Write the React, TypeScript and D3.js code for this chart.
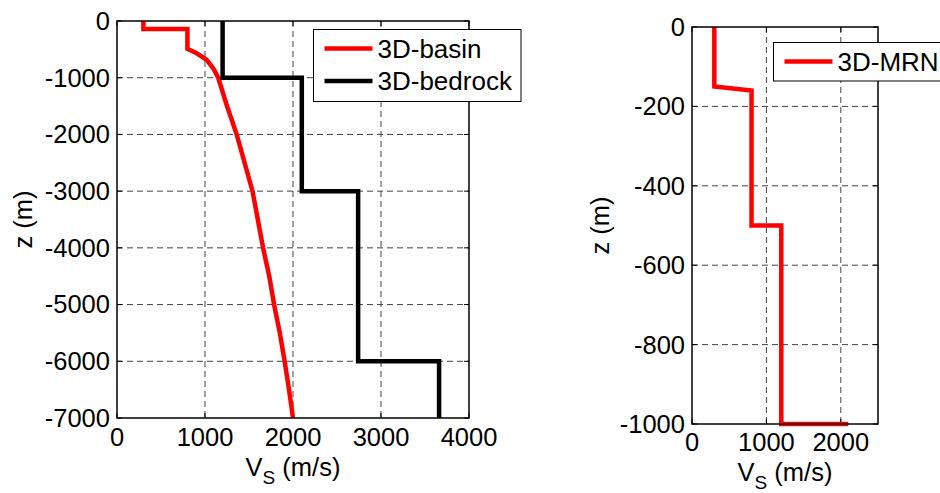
import React from "react";
import * as d3 from "d3";

// ---- data ----
const basinVs = [300, 300, 800, 800, 905, 1020, 1100, 1150, 1250, 1360, 1450, 1540, 1600, 1660, 1730, 1785, 1850, 1905, 1955, 2000];
const basinZ = [0, -140, -140, -490, -570, -685, -850, -1000, -1500, -2000, -2500, -3000, -3500, -4000, -4500, -5000, -5500, -6000, -6500, -7000];

const bedrockVs = [1200, 1200, 2100, 2100, 2740, 2740, 3660, 3660];
const bedrockZ = [0, -1000, -1000, -3000, -3000, -6000, -6000, -7000];

const mrnVs = [300, 300, 800, 800, 1200, 1200, 2100];
const mrnZ = [0, -150, -160, -500, -500, -1000, -1000];

const leftXTicks = [0, 1000, 2000, 3000, 4000];
const leftYTicks = [0, -1000, -2000, -3000, -4000, -5000, -6000, -7000];
const rightXTicks = [0, 1000, 2000];
const rightYTicks = [0, -200, -400, -600, -800, -1000];

const FONT = "'Liberation Sans', Arial, sans-serif";
const FS = 25.5;
const LFS = 26;

type Series = { vs: number[]; z: number[]; color: string };

function Panel(props: {
  x0: number; x1: number; y0: number; y1: number;
  xDomain: [number, number]; yDomain: [number, number];
  xTicks: number[]; yTicks: number[];
  series: Series[];
  yLabelX: number; xLabelY: number; xTickY: number;
}) {
  const { x0, x1, y0, y1, xDomain, yDomain, xTicks, yTicks, series, yLabelX, xLabelY, xTickY } = props;
  const xs = d3.scaleLinear().domain(xDomain).range([x0, x1]);
  const ys = d3.scaleLinear().domain(yDomain).range([y1, y0]);
  const tl = 5;
  const line = (s: Series) =>
    d3.line<number>().x((_, i) => xs(s.vs[i])).y((_, i) => ys(s.z[i]))(s.vs) || "";
  const cx = (x0 + x1) / 2;
  const cy = (y0 + y1) / 2;
  return (
    <g>
      {xTicks.filter(t => xs(t) > x0 + 1 && xs(t) < x1 - 1).map(t => (
        <line key={"gx" + t} x1={xs(t)} x2={xs(t)} y1={y0} y2={y1} stroke="#444" strokeWidth={1} strokeDasharray="6,4" />
      ))}
      {yTicks.filter(t => ys(t) > y0 + 1 && ys(t) < y1 - 1).map(t => (
        <line key={"gy" + t} y1={ys(t)} y2={ys(t)} x1={x0} x2={x1} stroke="#444" strokeWidth={1} strokeDasharray="6,4" />
      ))}
      {xTicks.map(t => (
        <g key={"tx" + t}>
          <line x1={xs(t)} x2={xs(t)} y1={y1} y2={y1 - tl} stroke="#000" strokeWidth={1} />
          <line x1={xs(t)} x2={xs(t)} y1={y0} y2={y0 + tl} stroke="#000" strokeWidth={1} />
          <text x={xs(t)} y={xTickY} textAnchor="middle" fontFamily={FONT} fontSize={FS}>{t}</text>
        </g>
      ))}
      {yTicks.map(t => (
        <g key={"ty" + t}>
          <line x1={x0} x2={x0 + tl} y1={ys(t)} y2={ys(t)} stroke="#000" strokeWidth={1} />
          <line x1={x1} x2={x1 - tl} y1={ys(t)} y2={ys(t)} stroke="#000" strokeWidth={1} />
          <text x={x0 - 7} y={ys(t)} dy="0.35em" textAnchor="end" fontFamily={FONT} fontSize={FS}>{t}</text>
        </g>
      ))}
      {series.map((s, i) => (
        <path key={"s" + i} d={line(s)} fill="none" stroke={s.color} strokeWidth={4.5} strokeLinejoin="miter" strokeLinecap="butt" />
      ))}
      <rect x={x0} y={y0} width={x1 - x0} height={y1 - y0} fill="none" stroke="#000" strokeWidth={1.5} />
      <text x={cx} y={xLabelY} textAnchor="middle" fontFamily={FONT} fontSize={FS}>
        V<tspan fontSize={19} dy={8}>S</tspan><tspan dy={-8}> (m/s)</tspan>
      </text>
      <text transform={`translate(${yLabelX},${cy}) rotate(-90)`} textAnchor="middle" fontFamily={FONT} fontSize={FS}>z (m)</text>
    </g>
  );
}

function Legend(props: { x: number; y: number; w: number; h: number; items: { label: string; color: string }[]; rowY: number[] }) {
  const { x, y, w, h, items, rowY } = props;
  return (
    <g>
      <rect x={x} y={y} width={w} height={h} fill="#fff" stroke="#000" strokeWidth={1} />
      {items.map((it, i) => (
        <g key={it.label}>
          <line x1={x + 11} x2={x + 59} y1={rowY[i]} y2={rowY[i]} stroke={it.color} strokeWidth={4.5} />
          <text x={x + 64} y={rowY[i]} dy="0.36em" fontFamily={FONT} fontSize={LFS}>{it.label}</text>
        </g>
      ))}
    </g>
  );
}

export default function App() {
  return (
    <svg width={940} height={493} style={{ position: "absolute", left: 0, top: 0, background: "#fff" }}>
      <rect width={940} height={493} fill="#fff" />
      <Panel x0={117} x1={469} y0={21} y1={418}
        xDomain={[0, 4000]} yDomain={[-7000, 0]}
        xTicks={leftXTicks} yTicks={leftYTicks}
        series={[{ vs: basinVs, z: basinZ, color: "#ff0000" }, { vs: bedrockVs, z: bedrockZ, color: "#000" }]}
        yLabelX={32} xLabelY={476} xTickY={446} />
      <Panel x0={692} x1={878} y0={27} y1={424}
        xDomain={[0, 2500]} yDomain={[-1000, 0]}
        xTicks={rightXTicks} yTicks={rightYTicks}
        series={[{ vs: mrnVs, z: mrnZ, color: "#ff0000" }]}
        yLabelX={609} xLabelY={481} xTickY={451} />
      <Legend x={313.5} y={29.5} w={207.5} h={72} rowY={[48.5, 81]}
        items={[{ label: "3D-basin", color: "#ff0000" }, { label: "3D-bedrock", color: "#000" }]} />
      <Legend x={773.5} y={42.5} w={180} h={38.5} rowY={[61.5]}
        items={[{ label: "3D-MRN", color: "#ff0000" }]} />
    </svg>
  );
}
